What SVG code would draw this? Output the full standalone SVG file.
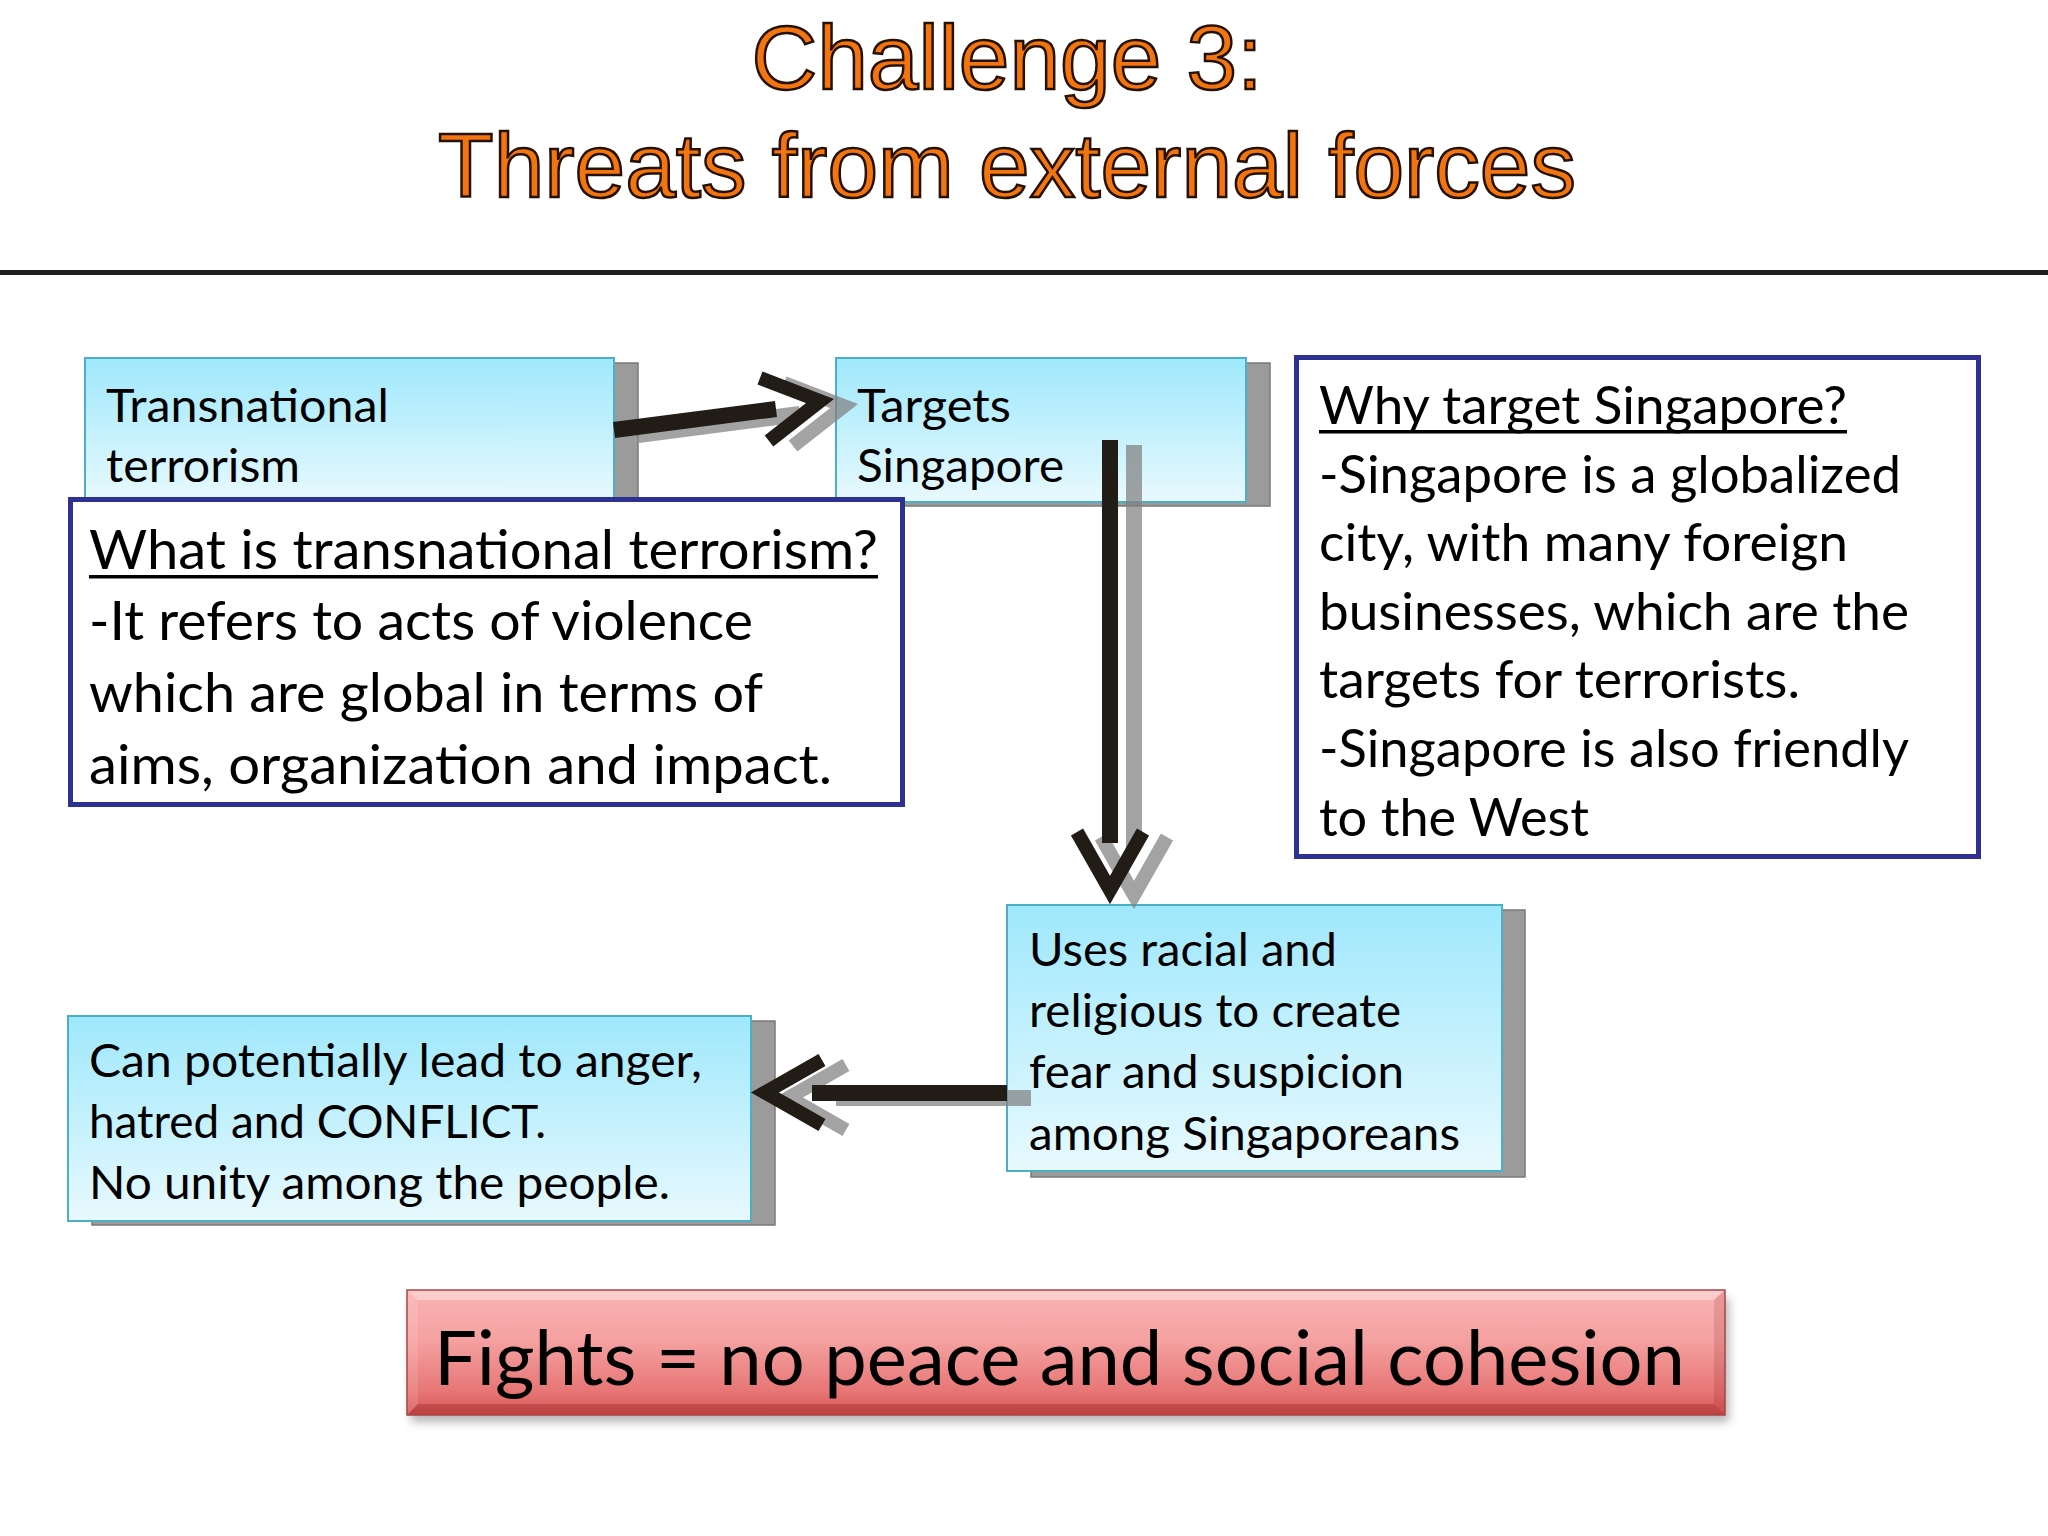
<svg xmlns="http://www.w3.org/2000/svg" xmlns:xlink="http://www.w3.org/1999/xlink" width="2048" height="1536" viewBox="0 0 2048 1536">
<defs>
<linearGradient id="cyan" x1="0" y1="0" x2="0" y2="1">
<stop offset="0" stop-color="#9FE8FC"/>
<stop offset="1" stop-color="#E8F9FE"/>
</linearGradient>
<linearGradient id="red" x1="0" y1="0" x2="0" y2="1">
<stop offset="0" stop-color="#F9B3B3"/>
<stop offset="0.4" stop-color="#F5A1A1"/>
<stop offset="0.8" stop-color="#E87777"/>
<stop offset="1" stop-color="#D85656"/>
</linearGradient>
<filter id="blur" x="-5%" y="-30%" width="110%" height="160%">
<feGaussianBlur stdDeviation="5"/>
</filter>
<style>
.title{font-family:"Liberation Sans",Arial,sans-serif;font-size:91px;fill:#F27510;stroke:#241100;stroke-width:2.5;text-anchor:middle}
.box{fill:url(#cyan);stroke:#4BAFC6;stroke-width:2}
.shadow{fill:#9B9B9B;stroke:#7A7A7A;stroke-width:1.5}
.note{fill:#FFFFFF;stroke:#2E3192;stroke-width:5}
.t46{font-family:Lato,"Open Sans",sans-serif;font-size:46px;fill:#000}
.t52{font-family:Lato,"Open Sans",sans-serif;font-size:52px;fill:#000}
.t55{font-family:Lato,"Open Sans",sans-serif;font-size:55px;fill:#000}
.t75{font-family:Lato,"Open Sans",sans-serif;font-size:76px;fill:#000}
.shaft{fill:none;stroke-width:16;stroke-linecap:butt}
.head{fill:none;stroke-width:14;stroke-linejoin:miter;stroke-miterlimit:10;stroke-linecap:butt}
</style>
<g id="arrowA">
<line class="shaft" x1="614" y1="430" x2="776" y2="409"/>
<polyline class="head" points="760,378 820,401 769,441"/>
</g>
<g id="arrowB">
<line class="shaft" x1="1110" y1="440" x2="1110" y2="843"/>
<polyline class="head" points="1077,832 1110,890 1143,832"/>
</g>
<g id="arrowC">
<line class="shaft" x1="1007" y1="1093" x2="812" y2="1093"/>
<polyline class="head" points="822,1060 765,1092.5 822,1125"/>
</g>
</defs>

<rect x="0" y="0" width="2048" height="1536" fill="#FFFFFF"/>

<g id="title">
<text class="title" x="1007" y="89">Challenge 3:</text>
<text class="title" x="1007" y="197">Threats from external forces</text>
</g>
<rect id="rule" x="0" y="270" width="2048" height="5" fill="#1E1E1E"/>

<g id="node-transnational">
<rect class="shadow" x="109" y="363" width="529" height="144"/>
<rect class="box" x="85" y="358" width="529" height="144"/>
<text class="t46" x="106" y="422" textLength="283" lengthAdjust="spacingAndGlyphs">Transnational</text>
<text class="t46" x="106" y="482" textLength="194" lengthAdjust="spacingAndGlyphs">terrorism</text>
</g>

<g id="node-targets">
<rect class="shadow" x="860" y="363" width="410" height="143"/>
<rect class="box" x="836" y="358" width="410" height="144"/>
<text class="t46" x="857" y="422" textLength="154" lengthAdjust="spacingAndGlyphs">Targets</text>
<text class="t46" x="857" y="482" textLength="207" lengthAdjust="spacingAndGlyphs">Singapore</text>
</g>

<g id="node-what">
<rect class="note" x="70.5" y="499.5" width="832" height="305"/>
<text class="t55" x="89" y="569" textLength="789" lengthAdjust="spacingAndGlyphs">What is transnational terrorism?</text>
<rect x="89" y="575" width="789" height="3.5" fill="#000"/>
<text class="t55" x="89" y="640" textLength="664" lengthAdjust="spacingAndGlyphs">-It refers to acts of violence</text>
<text class="t55" x="89" y="712" textLength="674" lengthAdjust="spacingAndGlyphs">which are global in terms of</text>
<text class="t55" x="89" y="784" textLength="743" lengthAdjust="spacingAndGlyphs">aims, organization and impact.</text>
</g>

<g id="node-why">
<rect class="note" x="1296.5" y="357.5" width="682" height="499"/>
<text class="t52" x="1319" y="424" textLength="528" lengthAdjust="spacingAndGlyphs">Why target Singapore?</text>
<rect x="1319" y="430" width="528" height="3.5" fill="#000"/>
<text class="t52" x="1319" y="492.6" textLength="582" lengthAdjust="spacingAndGlyphs">-Singapore is a globalized</text>
<text class="t52" x="1319" y="561.2" textLength="529" lengthAdjust="spacingAndGlyphs">city, with many foreign</text>
<text class="t52" x="1319" y="629.8" textLength="590" lengthAdjust="spacingAndGlyphs">businesses, which are the</text>
<text class="t52" x="1319" y="698.4" textLength="481" lengthAdjust="spacingAndGlyphs">targets for terrorists.</text>
<text class="t52" x="1319" y="767" textLength="590" lengthAdjust="spacingAndGlyphs">-Singapore is also friendly</text>
<text class="t52" x="1319" y="835.6" textLength="270" lengthAdjust="spacingAndGlyphs">to the West</text>
</g>

<g id="node-uses">
<rect class="shadow" x="1031" y="910" width="494" height="267"/>
<rect class="box" x="1007" y="905" width="495" height="266"/>
<text class="t46" x="1029" y="966" textLength="308" lengthAdjust="spacingAndGlyphs">Uses racial and</text>
<text class="t46" x="1029" y="1027" textLength="372" lengthAdjust="spacingAndGlyphs">religious to create</text>
<text class="t46" x="1029" y="1088" textLength="375" lengthAdjust="spacingAndGlyphs">fear and suspicion</text>
<text class="t46" x="1029" y="1150" textLength="431" lengthAdjust="spacingAndGlyphs">among Singaporeans</text>
</g>

<g id="node-can">
<rect class="shadow" x="92" y="1021" width="683" height="204"/>
<rect class="box" x="68" y="1016" width="683" height="205"/>
<text class="t46" x="89" y="1077" textLength="613" lengthAdjust="spacingAndGlyphs">Can potentially lead to anger,</text>
<text class="t46" x="89" y="1138" textLength="457" lengthAdjust="spacingAndGlyphs">hatred and CONFLICT.</text>
<text class="t46" x="89" y="1199" textLength="581" lengthAdjust="spacingAndGlyphs">No unity among the people.</text>
</g>

<g id="node-fights">
<rect x="411" y="1298" width="1318" height="124" fill="#7A7A7A" opacity="0.55" filter="url(#blur)"/>
<rect x="407" y="1290" width="1318" height="125" fill="url(#red)"/>
<polygon points="407,1290 1725,1290 1714,1300 418,1300" fill="#FFFFFF" opacity="0.35"/>
<polygon points="407,1290 418,1300 418,1404 407,1415" fill="#FFFFFF" opacity="0.12"/>
<polygon points="1725,1290 1714,1300 1714,1404 1725,1415" fill="#7A1010" opacity="0.15"/>
<polygon points="407,1415 418,1404 1714,1404 1725,1415" fill="#7A1010" opacity="0.28"/>
<rect x="407" y="1290" width="1318" height="125" fill="none" stroke="#A84545" stroke-width="1.5"/>
<text class="t75" x="434" y="1385" textLength="1251" lengthAdjust="spacingAndGlyphs">Fights = no peace and social cohesion</text>
</g>

<g id="connectors">
<g opacity="0.72" stroke="#808080" transform="translate(24,5)">
<use xlink:href="#arrowA"/>
<use xlink:href="#arrowB"/>
<use xlink:href="#arrowC"/>
</g>
<g stroke="#211D16">
<use xlink:href="#arrowA"/>
<use xlink:href="#arrowB"/>
<use xlink:href="#arrowC"/>
</g>
</g>
</svg>
